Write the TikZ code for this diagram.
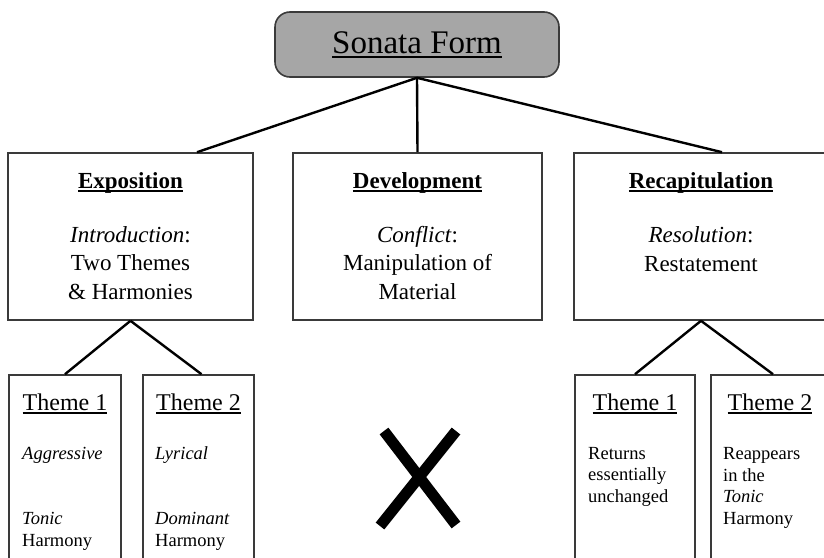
\documentclass[tikz,border=0pt]{standalone}
\usepackage{fontspec}
\setmainfont{Liberation Serif}
\usetikzlibrary{calc}
\definecolor{titlegray}{HTML}{A6A6A6}
\definecolor{edgegray}{HTML}{3A3A3A}
\newcommand\myul[1]{\leavevmode\setbox0\hbox{#1}\makebox[0pt][l]{\rule[-0.16em]{\wd0}{0.07em}}\box0}
\begin{document}
\begin{tikzpicture}[x=1pt,y=-1pt,
  box/.style={draw=edgegray, line width=1.6pt, inner sep=0pt, fill=white},
  link/.style={line width=2.4pt, black},
  titlefont/.style={font=\fontsize{33}{36}\selectfont, anchor=base},
  head/.style={font=\fontsize{23}{28}\selectfont\bfseries, anchor=base},
  body/.style={font=\fontsize{23}{28.5}\selectfont, anchor=base, align=center, inner sep=0pt},
  themehead/.style={font=\fontsize{24}{28}\selectfont, anchor=base},
  small/.style={font=\fontsize{18.5}{21.5}\selectfont, anchor=base west, align=left, inner sep=0pt},
  cross/.style={line width=11pt, black}
]
\useasboundingbox (0,0) rectangle (824,557);
\clip (0,0) rectangle (824,557);
\fill[white] (0,0) rectangle (824,557);

% title
\node[box, fill=titlegray, rounded corners=15pt, minimum width=284pt, minimum height=65pt] (title) at (417,44.5) {};
\node[titlefont] (titletext) at (417,53) {\myul{Sonata Form}};

% middle boxes
\node[box, minimum width=245pt, minimum height=167pt] (expo) at (130.5,236.5) {};
\node[box, minimum width=249pt, minimum height=167pt] (dev) at (417.5,236.5) {};
\node[box, minimum width=254pt, minimum height=167pt] (recap) at (701,236.5) {};

\node[head] (expohead) at (130.5,188) {\myul{Exposition}};
\node[body] (expobody) at (130.5,299) {\textit{Introduction}:\\Two Themes\\\& Harmonies};
\node[head] (devhead) at (417.5,188) {\myul{Development}};
\node[body] (devbody) at (417.5,299) {\textit{Conflict}:\\Manipulation of\\Material};
\node[head] (recaphead) at (701,188) {\myul{Recapitulation}};
\node[body] (recapbody) at (701,271) {\textit{Resolution}:\\Restatement};

% bottom boxes
\node[box, minimum width=112pt, minimum height=250pt] (t1) at (65,500) {};
\node[box, minimum width=111pt, minimum height=250pt] (t2) at (198.5,500) {};
\node[box, minimum width=120pt, minimum height=250pt] (r1) at (635,500) {};
\node[box, minimum width=118pt, minimum height=250pt] (r2) at (770,500) {};

\node[themehead] (t1head) at (65,410) {\myul{Theme 1}};
\node[themehead] (t2head) at (198.5,410) {\myul{Theme 2}};
\node[themehead] (r1head) at (635,410) {\myul{Theme 1}};
\node[themehead] (r2head) at (770,410) {\myul{Theme 2}};

\node[small] (t1a) at (22,459) {\textit{Aggressive}};
\node[small] (t1b) at (22,546) {\textit{Tonic}\\Harmony};
\node[small] (t2a) at (155,459) {\textit{Lyrical}};
\node[small] (t2b) at (155,546) {\textit{Dominant}\\Harmony};
\node[small] (r1a) at (588,502) {Returns\\essentially\\unchanged};
\node[small] (r2a) at (723,524) {Reappears\\in the\\\textit{Tonic}\\Harmony};

% connectors
\draw[link] (title.south) -- ([xshift=66.5pt]expo.north);
\draw[link] (title.south) -- (dev.north);
\draw[link] (title.south) -- ([xshift=21pt]recap.north);
\draw[link] (expo.south) -- (t1.north);
\draw[link] (expo.south) -- ([xshift=3pt]t2.north);
\draw[link] (recap.south) -- (r1.north);
\draw[link] (recap.south) -- ([xshift=3pt]r2.north);

% cross
\draw[cross] (384,431) -- (456,525);
\draw[cross] (456,431) -- (380,526);
\end{tikzpicture}
\end{document}
